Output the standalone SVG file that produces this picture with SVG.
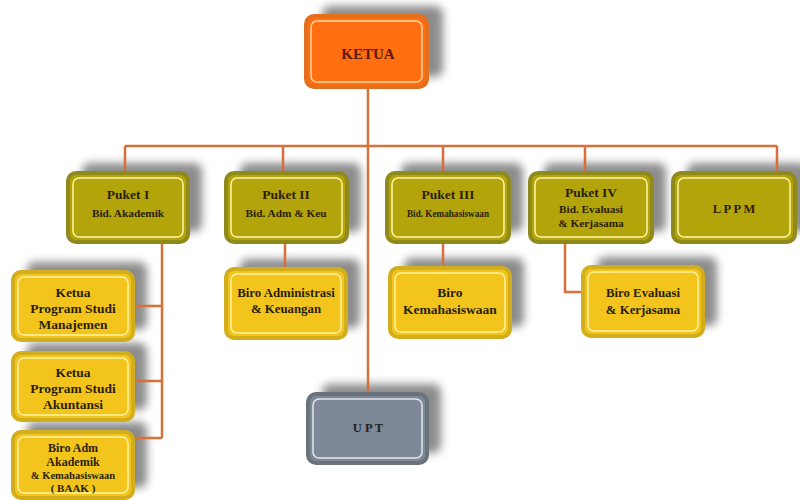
<svg xmlns="http://www.w3.org/2000/svg" width="800" height="500" viewBox="0 0 800 500">
<defs>
<filter id="blur" x="-30%" y="-30%" width="160%" height="160%"><feGaussianBlur stdDeviation="4"/></filter>
<style>
text{font-family:"Liberation Serif","Times New Roman",serif;font-weight:bold;text-anchor:middle;fill:#2a1f05}
.sh{fill:#707070;opacity:0.8;filter:url(#blur)}
.conn{stroke:#d8703a;stroke-width:2.5;fill:none}
.o .out{fill:#ff6e10;stroke:#e2701e;stroke-width:4}
.o .in{fill:none;stroke:#ffd6a6;stroke-width:1.5}
.ol .out{fill:#b4a40c;stroke:#8e8a1c;stroke-width:4}
.ol .in{fill:none;stroke:#fff6a8;stroke-width:1.5}
.y .out{fill:#f3c41b;stroke:#d2ad1c;stroke-width:4}
.y .in{fill:none;stroke:#fff3a6;stroke-width:1.5}
.g .out{fill:#7d8996;stroke:#6a737c;stroke-width:4}
.g .in{fill:none;stroke:#e2e7eb;stroke-width:1.5}
.t13{font-size:13.5px}.t12{font-size:12.8px}.t11{font-size:11.3px}
</style>
</defs>
<rect width="800" height="500" fill="#ffffff"/>
<g id="shadows">
<rect class="sh" x="322" y="6" width="121" height="71" rx="8"/>
<rect class="sh" x="82" y="163" width="120" height="69" rx="8"/>
<rect class="sh" x="240" y="163" width="121" height="69" rx="8"/>
<rect class="sh" x="401" y="163" width="122" height="69" rx="8"/>
<rect class="sh" x="544" y="163" width="122" height="69" rx="8"/>
<rect class="sh" x="687" y="163" width="122" height="69" rx="8"/>
<rect class="sh" x="27" y="262" width="120" height="68" rx="8"/>
<rect class="sh" x="27" y="343" width="120" height="67" rx="8"/>
<rect class="sh" x="27" y="422" width="120" height="66" rx="8"/>
<rect class="sh" x="240" y="259" width="120" height="69" rx="8"/>
<rect class="sh" x="404" y="258" width="120" height="69" rx="8"/>
<rect class="sh" x="597" y="257" width="120" height="69" rx="8"/>
<rect class="sh" x="322" y="384" width="119" height="69" rx="8"/>
</g>
<g id="connectors" class="conn">
<path d="M368 87V394"/>
<path d="M125 146H777"/>
<path d="M125 146V173M283 146V173M443 146V173M585 146V173M777 146V173"/>
<path d="M162 242V438M133 306H162M133 381H162M133 438H162"/>
<path d="M285 242V269"/>
<path d="M443 242V268"/>
<path d="M565 242V292H583"/>
</g>
<g id="ketua" class="o">
<rect class="out" x="306" y="16" width="121" height="71" rx="8"/>
<rect class="in" x="311" y="21" width="111" height="61" rx="6"/>
<text x="368" y="59" style="font-size:15px;fill:#5c1a0e">KETUA</text>
</g>
<g id="puket1" class="ol">
<rect class="out" x="68" y="173" width="120" height="69" rx="8"/>
<rect class="in" x="73" y="178" width="110" height="59" rx="6"/>
<text class="t13" x="128" y="199">Puket I</text>
<text class="t11" x="128" y="217">Bid. Akademik</text>
</g>
<g id="puket2" class="ol">
<rect class="out" x="226" y="173" width="121" height="69" rx="8"/>
<rect class="in" x="231" y="178" width="111" height="59" rx="6"/>
<text class="t13" x="286" y="199">Puket II</text>
<text class="t11" x="286" y="217">Bid. Adm &amp; Keu</text>
</g>
<g id="puket3" class="ol">
<rect class="out" x="387" y="173" width="122" height="69" rx="8"/>
<rect class="in" x="392" y="178" width="112" height="59" rx="6"/>
<text class="t13" x="448" y="199">Puket III</text>
<text class="t11" x="448" y="217" textLength="82" lengthAdjust="spacingAndGlyphs">Bid. Kemahasiswaan</text>
</g>
<g id="puket4" class="ol">
<rect class="out" x="530" y="173" width="122" height="69" rx="8"/>
<rect class="in" x="535" y="178" width="112" height="59" rx="6"/>
<text class="t13" x="591" y="197">Puket IV</text>
<text class="t11" x="591" y="213">Bid. Evaluasi</text>
<text class="t11" x="591" y="227">&amp; Kerjasama</text>
</g>
<g id="lppm" class="ol">
<rect class="out" x="673" y="173" width="122" height="69" rx="8"/>
<rect class="in" x="678" y="178" width="112" height="59" rx="6"/>
<text x="734" y="213" style="font-size:12.5px">L P P M</text>
</g>
<g id="kaprodi-manajemen" class="y">
<rect class="out" x="13" y="272" width="120" height="68" rx="8"/>
<rect class="in" x="18" y="277" width="110" height="58" rx="6"/>
<text class="t13" x="73" y="297">Ketua</text>
<text class="t13" x="73" y="313">Program Studi</text>
<text class="t13" x="73" y="329">Manajemen</text>
</g>
<g id="kaprodi-akuntansi" class="y">
<rect class="out" x="13" y="353" width="120" height="67" rx="8"/>
<rect class="in" x="18" y="358" width="110" height="57" rx="6"/>
<text class="t13" x="73" y="377">Ketua</text>
<text class="t13" x="73" y="393">Program Studi</text>
<text class="t13" x="73" y="409">Akuntansi</text>
</g>
<g id="baak" class="y">
<rect class="out" x="13" y="432" width="120" height="66" rx="8"/>
<rect class="in" x="18" y="437" width="110" height="56" rx="6"/>
<text x="73" y="452" style="font-size:12px">Biro Adm</text>
<text x="73" y="466" style="font-size:12px">Akademik</text>
<text x="73" y="479" style="font-size:10.5px">&amp; Kemahasiswaan</text>
<text x="73" y="492" style="font-size:11px">( BAAK )</text>
</g>
<g id="biro-adm-keu" class="y">
<rect class="out" x="226" y="269" width="120" height="69" rx="8"/>
<rect class="in" x="231" y="274" width="110" height="59" rx="6"/>
<text class="t12" x="286" y="297">Biro Administrasi</text>
<text class="t12" x="286" y="313">&amp; Keuangan</text>
</g>
<g id="biro-kemahasiswaan" class="y">
<rect class="out" x="390" y="268" width="120" height="69" rx="8"/>
<rect class="in" x="395" y="273" width="110" height="59" rx="6"/>
<text class="t13" x="450" y="297">Biro</text>
<text class="t13" x="450" y="314">Kemahasiswaan</text>
</g>
<g id="biro-evaluasi" class="y">
<rect class="out" x="583" y="267" width="120" height="69" rx="8"/>
<rect class="in" x="588" y="272" width="110" height="59" rx="6"/>
<text class="t12" x="643" y="297">Biro Evaluasi</text>
<text class="t12" x="643" y="314">&amp; Kerjasama</text>
</g>
<g id="upt" class="g">
<rect class="out" x="308" y="394" width="119" height="69" rx="8"/>
<rect class="in" x="313" y="399" width="109" height="59" rx="6"/>
<text x="368" y="432" style="font-size:12.5px;fill:#1e2228">U P T</text>
</g>
</svg>
